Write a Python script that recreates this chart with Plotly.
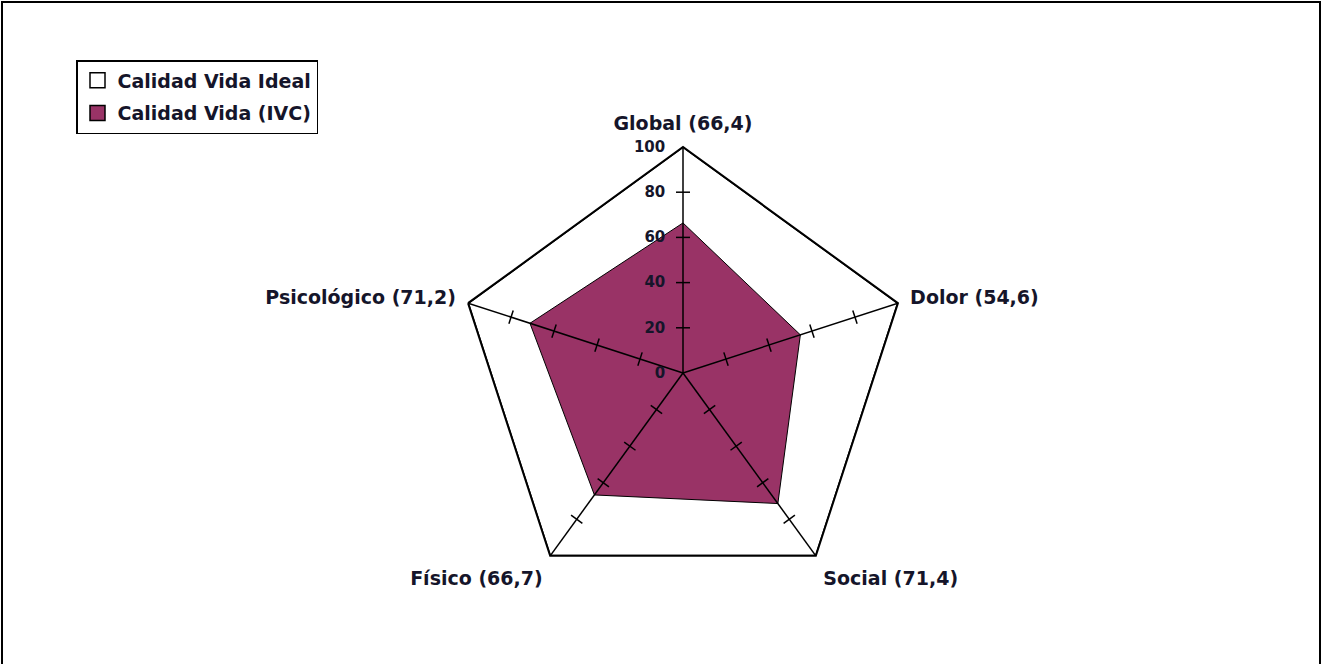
import plotly.graph_objects as go

# ---- data ----
dimensions = ["Global", "Dolor", "Social", "Físico", "Psicológico"]
ivc_values = [66.4, 54.6, 71.4, 66.7, 71.2]
ideal_values = [100, 100, 100, 100, 100]
radial_ticks = [0, 20, 40, 60, 80, 100]
series_names = ["Calidad Vida Ideal", "Calidad Vida (IVC)"]

labels = [f"{d} ({str(v).replace('.', ',')})" for d, v in zip(dimensions, ivc_values)]

W, H = 1322, 664
cx, cy, R = 683, 373, 226
FONT = "DejaVu Sans, Arial, sans-serif"
TXT = "#15152a"
MAROON = "#993366"

fig = go.Figure()

# filled series (legend entries drawn separately as squares)
fig.add_trace(go.Scatterpolar(
    r=ideal_values + ideal_values[:1], theta=labels + labels[:1],
    mode="lines", fill="toself", fillcolor="white",
    line=dict(color="black", width=2), name=series_names[0], showlegend=False,
))
fig.add_trace(go.Scatterpolar(
    r=ivc_values + ivc_values[:1], theta=labels + labels[:1],
    mode="lines", fill="toself", fillcolor=MAROON,
    line=dict(color="black", width=1), name=series_names[1], showlegend=False,
))

# spokes drawn above the fills
rmin, rmax = radial_ticks[0], radial_ticks[-1]
sp_r, sp_t = [], []
for lab in labels:
    sp_r += [rmin, rmax, None]
    sp_t += [lab, lab, None]
fig.add_trace(go.Scatterpolar(
    r=sp_r, theta=sp_t, mode="lines", showlegend=False, hoverinfo="skip",
    line=dict(color="black", width=1.5), connectgaps=False,
))

# tick marks on every spoke
inner = [t for t in radial_ticks if rmin < t < rmax]
tick_r, tick_theta, tick_ang = [], [], []
for i, lab in enumerate(labels):
    for t in inner:
        tick_r.append(t)
        tick_theta.append(lab)
        tick_ang.append(i * 360 / len(labels))
fig.add_trace(go.Scatterpolar(
    r=tick_r, theta=tick_theta, mode="markers", showlegend=False, hoverinfo="skip",
    marker=dict(symbol="line-ew", size=10, angle=tick_ang,
                line=dict(color="black", width=1.5)),
))

# legend entries (square swatches)
for name, col, grp in [(series_names[0], "white", "a"), (series_names[1], MAROON, "b")]:
    fig.add_trace(go.Scatterpolar(
        r=[None], theta=[labels[0]], mode="markers", name=name, legendgroup=grp,
        marker=dict(symbol="square", size=15, color=col, line=dict(color="black", width=1.5)),
    ))

fig.update_layout(
    width=W, height=H,
    margin=dict(l=0, r=0, t=0, b=0),
    paper_bgcolor="white",
    font=dict(family=FONT, color=TXT),
    polar=dict(
        domain=dict(x=[(cx - R) / W, (cx + R) / W], y=[1 - (cy + R) / H, 1 - (cy - R) / H]),
        bgcolor="white",
        gridshape="linear",
        angularaxis=dict(
            categoryorder="array", categoryarray=labels,
            rotation=90, direction="clockwise",
            showline=True, linecolor="black", linewidth=2,
            showgrid=False,
            ticks="outside", ticklen=8, tickcolor="rgba(0,0,0,0)",
            tickfont=dict(family=FONT, size=19, weight="bold", color=TXT),
        ),
        radialaxis=dict(
            range=[rmin, rmax], tickvals=radial_ticks, angle=90, side="counterclockwise",
            showgrid=False, showline=False,
            ticks="outside", ticklen=12, tickcolor="rgba(0,0,0,0)", tickangle=90,
            tickfont=dict(family=FONT, size=15, weight="bold", color=TXT),
        ),
    ),
    legend=dict(
        x=76 / W, y=1 - 60 / H, xanchor="left", yanchor="top",
        bgcolor="white", bordercolor="black", borderwidth=1.5,
        font=dict(family=FONT, size=19, weight="bold", color=TXT),
        itemwidth=30, tracegroupgap=5,
    ),
    shapes=[dict(type="rect", xref="paper", yref="paper",
                 x0=2 / W, x1=1 - 2 / W, y0=-0.05, y1=1 - 2 / H,
                 line=dict(color="black", width=2))],
)

fig.write_html("out.html")
